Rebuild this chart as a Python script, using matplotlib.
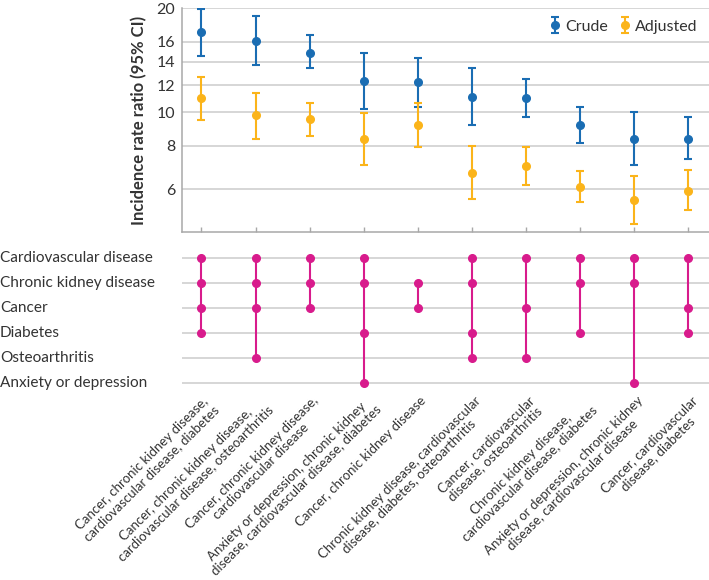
import numpy as np
import matplotlib
matplotlib.use("Agg")
from matplotlib import pyplot as plt
from matplotlib import transforms

plt.rcParams['font.family'] = ['Lato', 'DejaVu Sans']

combos = [
    "Cancer, chronic kidney disease,\ncardiovascular disease, diabetes",
    "Cancer, chronic kidney disease,\ncardiovascular disease, osteoarthritis",
    "Cancer, chronic kidney disease,\ncardiovascular disease",
    "Anxiety or depression, chronic kidney\ndisease, cardiovascular disease, diabetes",
    "Cancer, chronic kidney disease",
    "Chronic kidney disease, cardiovascular\ndisease, diabetes, osteoarthritis",
    "Cancer, cardiovascular\ndisease, osteoarthritis",
    "Chronic kidney disease,\ncardiovascular disease, diabetes",
    "Anxiety or depression, chronic kidney\ndisease, cardiovascular disease",
    "Cancer, cardiovascular\ndisease, diabetes",
]

conditions = ["Cardiovascular disease", "Chronic kidney disease", "Cancer",
              "Diabetes", "Osteoarthritis", "Anxiety or depression"]

# which conditions (row index) are in each combination
members = [
    [0, 1, 2, 3],
    [0, 1, 2, 4],
    [0, 1, 2],
    [0, 1, 3, 5],
    [1, 2],
    [0, 1, 3, 4],
    [0, 2, 4],
    [0, 1, 3],
    [0, 1, 5],
    [0, 2, 3],
]

crude = [17.1, 16.1, 14.9, 12.3, 12.25, 11.1, 11.0, 9.2, 8.4, 8.4]
crude_lo = [14.6, 13.7, 13.4, 10.2, 10.4, 9.2, 9.7, 8.15, 7.06, 7.32]
crude_hi = [19.9, 19.0, 16.7, 14.9, 14.4, 13.4, 12.5, 10.4, 10.0, 9.68]

adjusted = [11.0, 9.8, 9.56, 8.4, 9.2, 6.7, 7.02, 6.1, 5.59, 5.94]
adj_lo = [9.5, 8.4, 8.57, 7.06, 7.93, 5.61, 6.18, 5.49, 4.77, 5.22]
adj_hi = [12.7, 11.4, 10.65, 9.99, 10.65, 8.0, 7.97, 6.79, 6.54, 6.8]

yticks = [6, 8, 10, 12, 14, 16, 20]

blue = "#1a6db3"
orange = "#fbb41a"
pink = "#d81b8c"
grid = "#cccccc"
txt = "#333333"

W, H = 709, 580
fig = plt.figure(figsize=(W / 100, H / 100), dpi=100)
ax = fig.add_axes([182 / W, 1 - 231.7 / H, 527 / W, (231.7 - 8.3) / H])
ax2 = fig.add_axes([182 / W, 1 - 395.5 / H, 527 / W, (395.5 - 245.2) / H])

x = np.arange(len(combos))

# top panel: incidence rate ratios
crude = np.array(crude)
adjusted = np.array(adjusted)
ax.errorbar(x, crude, yerr=[crude - np.array(crude_lo), np.array(crude_hi) - crude],
            fmt='o', color=blue, ms=5.5, elinewidth=1.5, capsize=3, capthick=1.5,
            label="Crude", zorder=3)
ax.errorbar(x, adjusted, yerr=[adjusted - np.array(adj_lo), np.array(adj_hi) - adjusted],
            fmt='o', color=orange, ms=5.5, elinewidth=1.5, capsize=3, capthick=1.5,
            label="Adjusted", zorder=3)

ax.set_yscale('log')
ax.set_ylim(4.52, 20)
ax.set_xlim(-0.36, 9.38)
ax.set_yticks(yticks)
ax.set_yticklabels([str(t) for t in yticks])
ax.yaxis.set_minor_locator(matplotlib.ticker.NullLocator())
ax.set_xticks(x)
ax.set_xticklabels([])
ax.grid(axis='y', color=grid, lw=1.1)
ax.set_axisbelow(True)
for s in ['top', 'right']:
    ax.spines[s].set_visible(False)
for s in ['left', 'bottom']:
    ax.spines[s].set_color("#a8a8a8")
    ax.spines[s].set_linewidth(1.1)
ax.tick_params(axis='y', length=0, pad=5, labelsize=11.5, labelcolor=txt)
ax.tick_params(axis='x', direction='in', length=3.6, color="#a8a8a8", width=1.0)
ax.set_ylabel("Incidence rate ratio (95% CI)", fontsize=12, fontweight='bold', color=txt)
ax.yaxis.set_label_coords(-0.066, 0.5)

leg = ax.legend(loc='upper right', ncol=2, frameon=False, fontsize=11.5,
                handlelength=0.7, handletextpad=0.3, columnspacing=0.7,
                bbox_to_anchor=(1.0, 1.0), borderaxespad=0.3)
for t in leg.get_texts():
    t.set_color(txt)

# bottom panel: combination matrix
for r in range(len(conditions)):
    ax2.axhline(r, color=grid, lw=1.1, zorder=1)
for i, rows in enumerate(members):
    ax2.plot([i, i], [min(rows), max(rows)], color=pink, lw=1.5, zorder=2)
    ax2.plot([i] * len(rows), rows, 'o', color=pink, ms=5.5, zorder=3)

ax2.set_xlim(-0.36, 9.38)
ax2.set_ylim(len(conditions) - 0.5, -0.5)
ax2.axis('off')

lab_tr = transforms.blended_transform_factory(fig.transFigure, ax2.transData)
for r, name in enumerate(conditions):
    ax2.text(0.0, r, name, transform=lab_tr, ha='left', va='center',
             fontsize=11.1, color=txt)

xt = ax2.transData + transforms.ScaledTranslation(1.5 / 72, 0, fig.dpi_scale_trans)
for i, name in enumerate(combos):
    ax2.text(i, len(conditions) - 0.55, name, transform=xt, rotation=45,
             rotation_mode='anchor', ha='right', va='top', multialignment='center',
             fontsize=9.5, color=txt, linespacing=1.05)

fig.savefig("out.png", dpi=100)
